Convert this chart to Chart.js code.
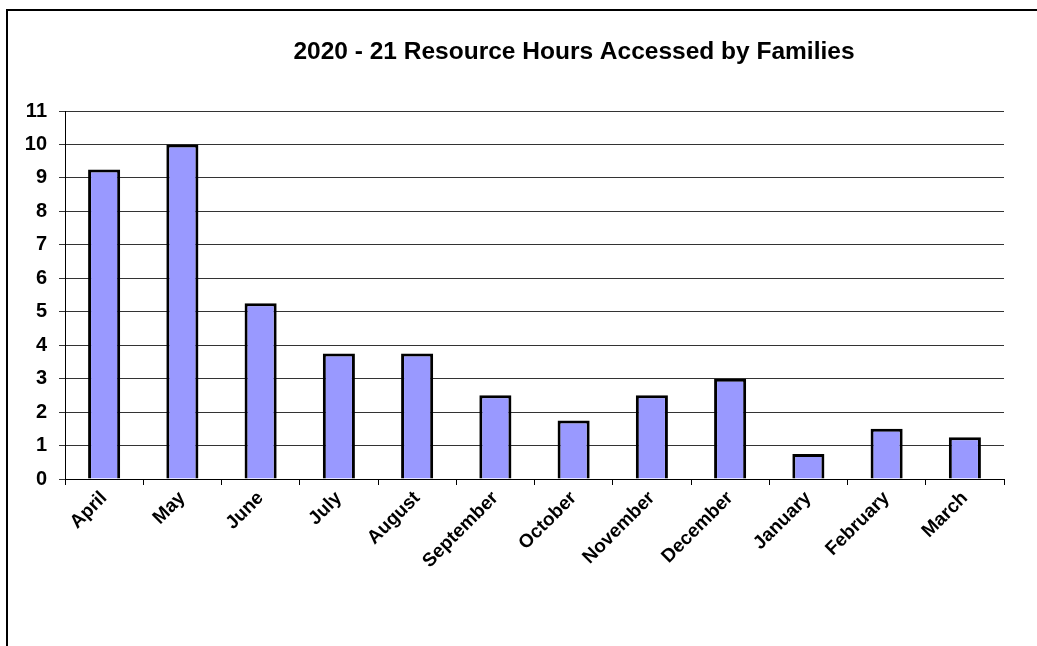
<!DOCTYPE html>
<html>
<head>
<meta charset="utf-8">
<script src="https://cdn.jsdelivr.net/npm/chart.js@4/dist/chart.umd.min.js"></script>
<style>
    html, body { margin: 0; padding: 0; background: #fff; }
    .wrap { position: relative; width: 1037px; height: 646px; overflow: hidden; }
    .frame { position: absolute; left: 6px; top: 9px; width: 1100px; height: 700px;
             border-left: 2px solid #000; border-top: 2px solid #000; }
    canvas { position: absolute; left: 0; top: 0; }
</style>
</head>
<body>
<div class="wrap">
    <div class="frame"></div>
    <canvas id="myChart" width="1037" height="646"></canvas>
</div>
<script>
// #region data
const months = ['April', 'May', 'June', 'July', 'August', 'September',
    'October', 'November', 'December', 'January', 'February', 'March'];
const hours = [9.25, 10, 5.25, 3.75, 3.75, 2.5, 1.75, 2.5, 3, 0.75, 1.5, 1.25];
const yTicks = [0, 1, 2, 3, 4, 5, 6, 7, 8, 9, 10, 11];
const chartTitle = '2020 - 21 Resource Hours Accessed by Families';
// #endregion data

const fontFamily = '"Liberation Sans", Arial, sans-serif';

// title is drawn over the whole (uncropped) chart area, so centre it by hand
const titlePlugin = {
    id: 'excelTitle',
    afterDraw(chart) {
        const ctx = chart.ctx;
        ctx.save();
        ctx.font = 'bold 24.5px ' + fontFamily;
        ctx.fillStyle = '#000';
        ctx.textAlign = 'center';
        ctx.textBaseline = 'middle';
        ctx.fillText(chartTitle, 574, 52);
        ctx.restore();
    }
};

const ctx = document.getElementById('myChart').getContext('2d');
new Chart(ctx, {
    type: 'bar',
    data: {
        labels: months,
        datasets: [{
            data: hours,
            backgroundColor: '#9999FF',
            borderColor: '#000',
            borderWidth: 3,
            categoryPercentage: 1,
            barPercentage: 0.41
        }]
    },
    options: {
        responsive: false,
        animation: false,
        layout: { padding: { left: 0, top: 111, right: 33, bottom: 0 } },
        plugins: {
            legend: { display: false },
            tooltip: { enabled: false }
        },
        scales: {
            x: {
                afterFit: (s) => { s.height = 167; },
                grid: {
                    drawOnChartArea: false,
                    drawTicks: true,
                    tickLength: 6,
                    color: '#000'
                },
                border: { color: '#000', width: 1 },
                ticks: {
                    color: '#000',
                    maxRotation: 45,
                    minRotation: 45,
                    padding: 2,
                    font: { family: fontFamily, size: 19, weight: 'bold' }
                }
            },
            y: {
                min: 0,
                max: 11,
                afterFit: (s) => { s.width = 65; },
                afterBuildTicks: (s) => { s.ticks = yTicks.map(v => ({ value: v })); },
                grid: {
                    color: '#333',
                    lineWidth: 1,
                    drawTicks: true,
                    tickLength: 6
                },
                border: { color: '#000', width: 1 },
                ticks: {
                    color: '#000',
                    padding: 12,
                    font: { family: fontFamily, size: 20, weight: 'bold' }
                }
            }
        }
    },
    plugins: [titlePlugin]
});
</script>
</body>
</html>
